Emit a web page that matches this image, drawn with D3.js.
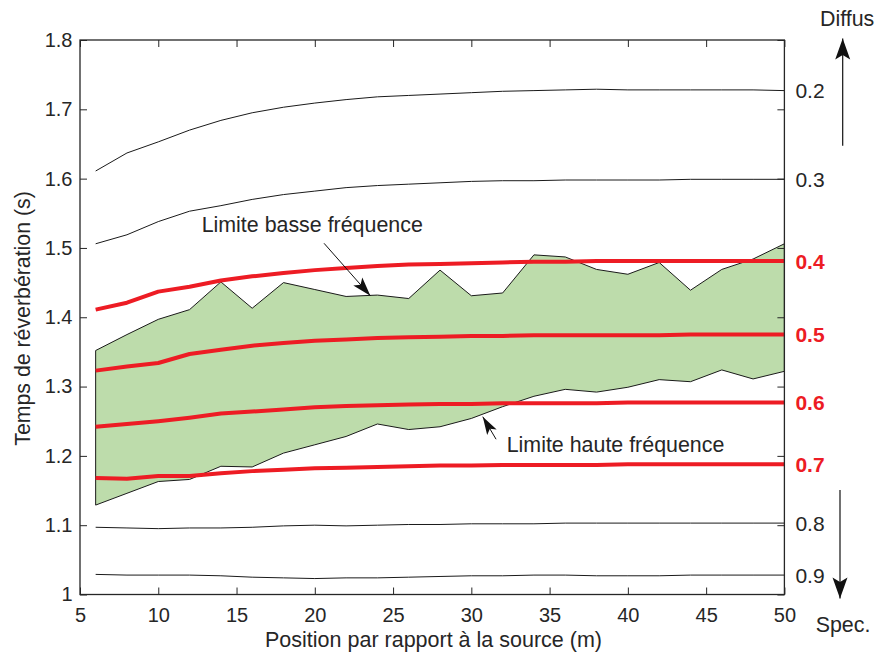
<!DOCTYPE html>
<html><head><meta charset="utf-8">
<script src="https://cdn.jsdelivr.net/npm/d3@7"></script>
<style>
body{margin:0;background:#fff}
svg{display:block}
text{font-family:"Liberation Sans",Arial,Helvetica,sans-serif;fill:#262626}
</style>
</head><body>
<svg id="chart" width="875" height="655"></svg>
<script>
// ---- data ----
const positions = [6,8,10,12,14,16,18,20,22,24,26,28,30,32,34,36,38,40,42,44,46,48,50];

const curve02 = [1.611,1.637,1.653,1.670,1.684,1.695,1.703,1.709,1.714,1.718,1.720,1.722,1.724,1.726,1.727,1.728,1.729,1.728,1.728,1.728,1.728,1.728,1.727];
const curve03 = [1.506,1.519,1.538,1.553,1.561,1.570,1.577,1.582,1.587,1.590,1.592,1.594,1.596,1.597,1.597,1.598,1.598,1.598,1.598,1.599,1.599,1.599,1.599];
const curve04 = [1.411,1.421,1.437,1.444,1.453,1.459,1.464,1.468,1.471,1.474,1.476,1.477,1.478,1.479,1.480,1.480,1.481,1.481,1.481,1.481,1.481,1.481,1.481];
const curve05 = [1.323,1.329,1.334,1.347,1.353,1.359,1.363,1.366,1.368,1.370,1.371,1.372,1.373,1.373,1.374,1.374,1.374,1.374,1.374,1.375,1.375,1.375,1.375];
const curve06 = [1.242,1.246,1.250,1.255,1.261,1.264,1.267,1.270,1.272,1.273,1.274,1.275,1.275,1.276,1.276,1.276,1.276,1.277,1.277,1.277,1.277,1.277,1.277];
const curve07 = [1.168,1.167,1.171,1.171,1.175,1.178,1.180,1.182,1.183,1.184,1.185,1.186,1.186,1.187,1.187,1.187,1.187,1.188,1.188,1.188,1.188,1.188,1.188];
const curve08 = [1.097,1.096,1.095,1.096,1.096,1.097,1.099,1.100,1.099,1.100,1.101,1.101,1.102,1.102,1.102,1.103,1.103,1.103,1.103,1.103,1.103,1.103,1.103];
const curve09 = [1.029,1.028,1.028,1.028,1.027,1.025,1.024,1.023,1.024,1.024,1.025,1.026,1.027,1.027,1.028,1.028,1.027,1.027,1.027,1.028,1.028,1.028,1.028];

const bandUpper = [1.352,1.375,1.397,1.411,1.451,1.413,1.450,1.440,1.430,1.432,1.427,1.468,1.431,1.435,1.490,1.487,1.469,1.462,1.479,1.439,1.469,1.484,1.506];
const bandLower = [1.129,1.146,1.163,1.166,1.185,1.184,1.204,1.216,1.228,1.246,1.238,1.242,1.254,1.271,1.286,1.296,1.292,1.299,1.310,1.307,1.324,1.311,1.322];

const curveLabels = ["0.2","0.3","0.4","0.5","0.6","0.7","0.8","0.9"];
const curveHighlighted = [false,false,true,true,true,true,false,false];

const xTickValues = [5,10,15,20,25,30,35,40,45,50];
const xTickLabels = ["5","10","15","20","25","30","35","40","45","50"];
const yTickValues = [1,1.1,1.2,1.3,1.4,1.5,1.6,1.7,1.8];
const yTickLabels = ["1","1.1","1.2","1.3","1.4","1.5","1.6","1.7","1.8"];

const xTitle = "Position par rapport à la source (m)";
const yTitle = "Temps de réverbération (s)";
const noteLow = "Limite basse fréquence";
const noteHigh = "Limite haute fréquence";

// ---- drawing ----
const svg = d3.select("#chart");
const L = 80, R = 784.4, T = 40, B = 594.5;
const ink = "#262626", red = "#ed1c24", green = "#bddcab";

const x = d3.scaleLinear().domain([5,50]).range([L,R]);
const y = d3.scaleLinear().domain([1,1.8]).range([B,T]);

const curves = [curve02,curve03,curve04,curve05,curve06,curve07,curve08,curve09];

// band
const bandData = positions.map((p,i)=>({p, lo:bandLower[i], hi:bandUpper[i]}));
const area = d3.area().x(d=>x(d.p)).y0(d=>y(d.lo)).y1(d=>y(d.hi));
svg.append("path").datum(bandData).attr("d", area(bandData)+"Z")
  .attr("fill", green).attr("stroke", "#1a1a1a").attr("stroke-width", 1)
  .attr("stroke-linejoin","miter");

const line = d3.line().x((d,i)=>x(positions[i])).y(d=>y(d));

// thin curves first, then red
curves.forEach((c,i)=>{
  if (curveHighlighted[i]) return;
  svg.append("path").attr("d", line(c)).attr("fill","none")
    .attr("stroke","#1a1a1a").attr("stroke-width",1);
});
curves.forEach((c,i)=>{
  if (!curveHighlighted[i]) return;
  svg.append("path").attr("d", line(c)).attr("fill","none")
    .attr("stroke",red).attr("stroke-width",4).attr("stroke-linejoin","round");
});

// axes
const fs = 20;
const gx = svg.append("g").attr("transform",`translate(0,${B})`)
  .call(d3.axisBottom(x).tickValues(xTickValues).tickFormat((d,i)=>xTickLabels[i])
    .tickSizeInner(-7).tickSizeOuter(0).tickPadding(13));
const gxt = svg.append("g").attr("transform",`translate(0,${T})`)
  .call(d3.axisTop(x).tickValues(xTickValues).tickFormat("")
    .tickSizeInner(-7).tickSizeOuter(0));
const gy = svg.append("g").attr("transform",`translate(${L},0)`)
  .call(d3.axisLeft(y).tickValues(yTickValues).tickFormat((d,i)=>yTickLabels[i])
    .tickSizeInner(-7).tickSizeOuter(0).tickPadding(7.5));
const gyr = svg.append("g").attr("transform",`translate(${R},0)`)
  .call(d3.axisRight(y).tickValues(yTickValues).tickFormat("")
    .tickSizeInner(-7).tickSizeOuter(0));
[gx,gxt,gy,gyr].forEach(g=>{
  g.select(".domain").remove();
  g.selectAll(".tick line").attr("stroke",ink).attr("stroke-width",1);
  g.selectAll(".tick text").attr("fill",ink).attr("font-size",fs)
    .attr("font-family",'"Liberation Sans",Arial,sans-serif');
});
svg.append("rect").attr("x",L).attr("y",T).attr("width",R-L).attr("height",B-T)
  .attr("fill","none").attr("stroke",ink).attr("stroke-width",1.3);

// right-side curve labels
curves.forEach((c,i)=>{
  svg.append("text").attr("x", R+11).attr("y", y(c[c.length-1]))
    .attr("dy","0.36em").attr("font-size",21)
    .attr("font-weight", curveHighlighted[i] ? "bold" : "normal")
    .style("fill", curveHighlighted[i] ? red : ink)
    .text(curveLabels[i]);
});

// titles
svg.append("text").attr("x",(265+602)/2).attr("y",646.5).attr("text-anchor","middle")
  .attr("font-size",21.5).text(xTitle);
svg.append("text").attr("transform",`translate(29.5,318.5) rotate(-90)`)
  .attr("text-anchor","middle").attr("font-size",21.3).text(yTitle);

// arrows helper
function arrow(x1,y1,x2,y2,len,hw,sw){
  svg.append("line").attr("x1",x1).attr("y1",y1).attr("x2",x2).attr("y2",y2)
    .attr("stroke","#111").attr("stroke-width",sw);
  const a = Math.atan2(y2-y1,x2-x1), ca=Math.cos(a), sa=Math.sin(a);
  const bx = x2-len*ca, by = y2-len*sa;
  const nx = x2-len*0.78*ca, ny = y2-len*0.78*sa;
  const pts = [[x2,y2],[bx - hw*sa, by + hw*ca],[nx,ny],[bx + hw*sa, by - hw*ca]];
  svg.append("polygon").attr("points",pts.map(p=>p.join(",")).join(" ")).attr("fill","#111");
}

// annotations (positioned in data coordinates)
svg.append("text").attr("x",x(12.77)).attr("y",y(1.523)).attr("font-size",21.4).text(noteLow);
arrow(x(20.59),y(1.5067),x(23.55),y(1.431),19,6,1);
svg.append("text").attr("x",x(32.26)).attr("y",y(1.206)).attr("font-size",21.4).text(noteHigh);
arrow(x(31.58),y(1.224),x(30.73),y(1.2565),18,5.5,1);

// Diffus / Spec. indicators
svg.append("text").attr("x",820).attr("y",26).attr("font-size",21.4).text("Diffus");
arrow(842.7,145.7,842.7,38.5,21,7.5,1.2);
svg.append("text").attr("x",815.7).attr("y",631.7).attr("font-size",21.4).text("Spec.");
arrow(840,490,840,598.5,21,7.5,1.2);
</script>
</body></html>
